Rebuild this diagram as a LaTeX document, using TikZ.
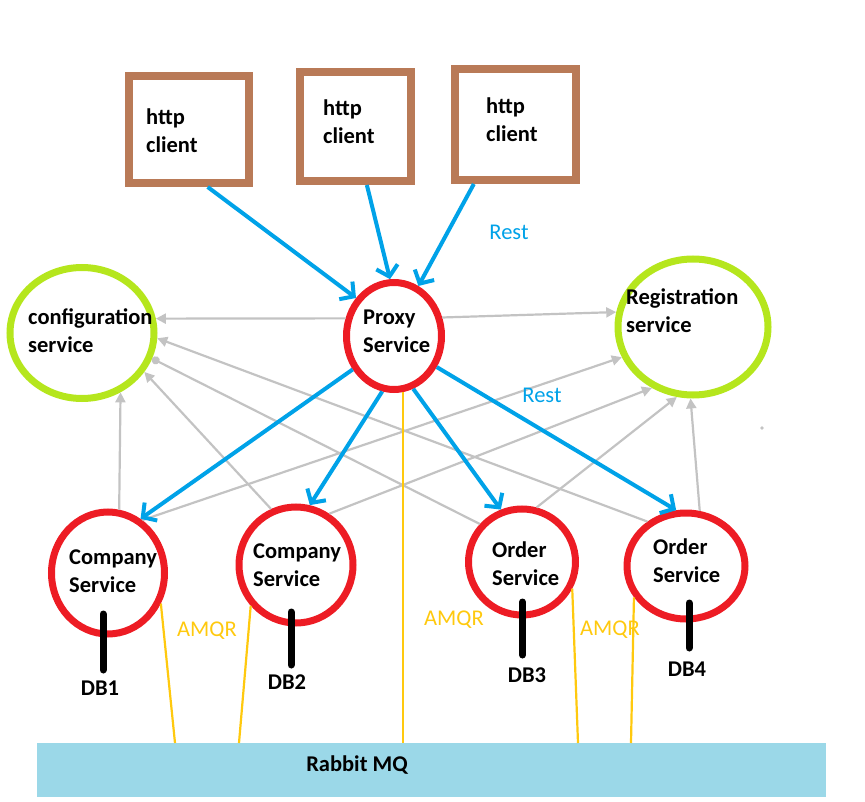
\documentclass[tikz,border=0pt]{standalone}
\usepackage{fontspec}
\setmainfont{Carlito}
\usetikzlibrary{arrows.meta, shapes.geometric}
\definecolor{clientbrown}{RGB}{185,122,87}
\definecolor{svcred}{RGB}{237,28,36}
\definecolor{infogreen}{RGB}{181,230,29}
\definecolor{restblue}{RGB}{0,162,232}
\definecolor{linkgray}{RGB}{195,195,195}
\definecolor{amqpyellow}{RGB}{255,201,14}
\definecolor{mqblue}{RGB}{155,216,232}

\begin{document}
\begin{tikzpicture}[x=1pt, y=-1pt,
    client/.style={draw=clientbrown, line width=8pt, inner sep=0pt},
    infra/.style={ellipse, draw=infogreen, line width=7pt, inner sep=0pt},
    svc/.style={ellipse, draw=svcred, line width=7pt, inner sep=0pt},
    txt/.style={font=\bfseries\fontsize{22.5}{28}\selectfont, align=left, anchor=west, inner sep=0pt},
    restlbl/.style={text=restblue, font=\fontsize{22.5}{28}\selectfont, inner sep=0pt},
    amqplbl/.style={text=amqpyellow, font=\fontsize{22.5}{28}\selectfont, inner sep=0pt},
    rest/.style={draw=restblue, line width=4pt, -{Straight Barb[length=10pt,width=22pt]}},
    link/.style={draw=linkgray, line width=2.2pt, -{Triangle[length=10pt,width=10pt]}},
    amqp/.style={draw=amqpyellow, line width=2.2pt},
    dbline/.style={line width=7pt, line cap=round}]

    \useasboundingbox (0,0) rectangle (865,802); % khung

    % http clients
    \node[client, minimum width=120, minimum height=107] (cl1) at (189,129.5) {};
    \node[client, minimum width=111, minimum height=109] (cl2) at (355.5,126.5) {};
    \node[client, minimum width=121, minimum height=111] (cl3) at (515.5,124.5) {};
    \node[txt] (cl1txt) at (146,131) {http\\client};
    \node[txt] (cl2txt) at (323,122) {http\\client};
    \node[txt] (cl3txt) at (486,120) {http\\client};

    % config / registration
    \node[infra, minimum width=144, minimum height=131] (conf) at (82,333) {};
    \node[infra, minimum width=150, minimum height=136] (reg) at (693,327) {};
    \node[txt] (conftxt) at (28,331) {configuration\\service};
    \node[txt] (regtxt) at (626,311) {Registration\\service};

    % services
    \node[svc, minimum width=95, minimum height=107] (proxy) at (394,336) {};
    \node[svc, minimum width=113, minimum height=122] (comp1) at (108,573) {};
    \node[svc, minimum width=114, minimum height=116] (comp2) at (296,565) {};
    \node[svc, minimum width=107, minimum height=106] (ord1) at (522,562) {};
    \node[svc, minimum width=118, minimum height=106] (ord2) at (686,566) {};
    \node[txt] (proxytxt) at (363,331) {Proxy\\Service};
    \node[txt] (comp1txt) at (69,571) {Company\\Service};
    \node[txt] (comp2txt) at (253,565) {Company\\Service};
    \node[txt] (ord1txt) at (492,564) {Order\\Service};
    \node[txt] (ord2txt) at (653,561) {Order\\Service};

    % Rabbit MQ
    \node[fill=mqblue, minimum width=789, minimum height=54, inner sep=0pt] (mq) at (431.5,770) {};
    \node[txt, anchor=center] (mqtxt) at (357,765) {Rabbit MQ};
    \coordinate (mq1) at (175,743);
    \coordinate (mq2) at (239,743);
    \coordinate (mq3) at (578,743);
    \coordinate (mq4) at (631,743);

    % gray links
    \draw[link] (proxy.160) -- (conf.11);
    \draw[link] (proxy.21) -- (reg.169);
    \draw[link] (comp1.80) -- (conf.-57);
    \draw[link] (comp2.114) -- (conf.-32);
    \draw[link] (ord2.131) -- (conf.-4);
    \draw[draw=linkgray, line width=2.2pt, -{Circle[length=8pt]}] (ord1.138) -- (conf.-20);
    \draw[link] (comp1.57) -- (reg.203);
    \draw[link] (comp2.57) -- (reg.236);
    \draw[link] (ord1.75) -- (reg.257);
    \draw[link] (ord2.76) -- (reg.268);
    \fill[linkgray] (762,428) circle (1.8); % cham

    % Rest arrows
    \draw[rest] (cl1.-72) -- (proxy.135);
    \draw[rest] (cl2.-79) -- (proxy.94);
    \draw[rest] (cl3.-125) -- (proxy.64);
    \draw[rest] (proxy.219) -- (comp1.59);
    \draw[rest] (proxy.258) -- (comp2.77);
    \draw[rest] (proxy.-70) -- (ord1.112);
    \draw[rest] (proxy.-36) -- (ord2.100);
    \node[restlbl] (rest1) at (509,232) {Rest};
    \node[restlbl] (rest2) at (542,395) {Rest};

    % AMQR lines
    \draw[amqp] (proxy.-81) -- (proxy.-81 |- mq.north);
    \draw[amqp] (comp1.-30) -- (mq1);
    \draw[amqp] (comp2.222) -- (mq2);
    \draw[amqp] (ord1.-28) -- (mq3);
    \draw[amqp] (ord2.211) -- (mq4);
    \node[amqplbl] (amqp1) at (207,631) {AMQR};
    \node[amqplbl] (amqp2) at (454,620) {AMQR};
    \node[amqplbl] (amqp3) at (610,630) {AMQR};

    % databases
    \node[txt, anchor=center] (db1) at (100,688) {DB1};
    \node[txt, anchor=center] (db2) at (287,682) {DB2};
    \node[txt, anchor=center] (db3) at (527,675) {DB3};
    \node[txt, anchor=center] (db4) at (687,669) {DB4};
    \draw[dbline] ([xshift=3pt,yshift=18pt]db1.center) -- ++(0,-56);
    \draw[dbline] ([xshift=4pt,yshift=17pt]db2.center) -- ++(0,-53);
    \draw[dbline] ([xshift=-4.5pt,yshift=20pt]db3.center) -- ++(0,-53);
    \draw[dbline] ([xshift=2pt,yshift=21pt]db4.center) -- ++(0,-45);

\end{tikzpicture}
\end{document}
